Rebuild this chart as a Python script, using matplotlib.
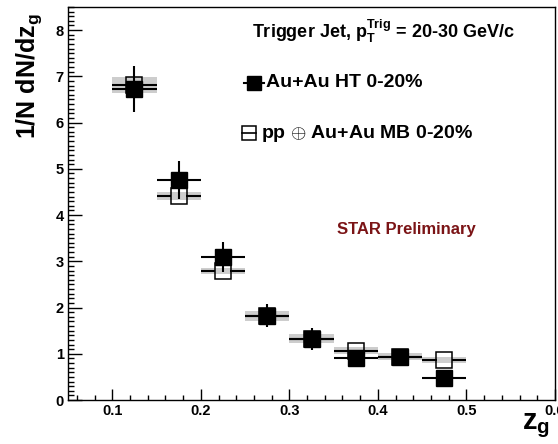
import numpy as np
import matplotlib
matplotlib.use('Agg')
import matplotlib.pyplot as plt
from matplotlib.ticker import MultipleLocator

plt.rcParams['font.family'] = ['Liberation Sans', 'DejaVu Sans']
plt.rcParams['font.weight'] = 'bold'
plt.rcParams['mathtext.fontset'] = 'custom'
plt.rcParams['mathtext.rm'] = 'Liberation Sans:bold'
plt.rcParams['mathtext.bf'] = 'Liberation Sans:bold'
plt.rcParams['mathtext.it'] = 'Liberation Sans:bold:italic'

# --- data ---
zg = np.array([0.125, 0.175, 0.225, 0.275, 0.325, 0.375, 0.425, 0.475])
bin_half = 0.025

auau_ht = np.array([6.72, 4.75, 3.09, 1.82, 1.32, 0.91, 0.94, 0.47])
auau_ht_err = np.array([0.50, 0.41, 0.32, 0.25, 0.23, 0.15, 0.15, 0.15])

pp_mb = np.array([6.82, 4.41, 2.79, 1.82, 1.33, 1.07, 0.94, 0.86])
pp_mb_sys = np.array([0.17, 0.08, 0.07, 0.11, 0.10, 0.07, 0.08, 0.07])

xticks = [0.1, 0.2, 0.3, 0.4, 0.5, 0.6]
yticks = [0, 1, 2, 3, 4, 5, 6, 7, 8]

# --- figure ---
fig = plt.figure(figsize=(5.58, 4.44), dpi=100)
ax = fig.add_axes([68 / 558, 44 / 444, 487 / 558, 393 / 444])

# grey systematic boxes (pp + Au+Au MB)
ax.bar(zg, 2 * pp_mb_sys, bottom=pp_mb - pp_mb_sys, width=2 * bin_half,
       color='#cdcdcd', linewidth=0, zorder=1)

# pp bin-width lines, stopping at the open marker
gap = 0.0085
ax.hlines(pp_mb, zg - bin_half, zg - gap, color='black', lw=1.5, zorder=2)
ax.hlines(pp_mb, zg + gap, zg + bin_half, color='black', lw=1.5, zorder=2)
ax.plot(zg, pp_mb, 's', ms=11, mfc='none', mec='black', mew=1.1, zorder=3)

# Au+Au HT
ax.errorbar(zg, auau_ht, yerr=auau_ht_err, xerr=bin_half, fmt='s', ms=11,
            mfc='black', mec='black', ecolor='black', elinewidth=1.5,
            capsize=0, zorder=4)

ax.set_xlim(0.05, 0.6)
ax.set_ylim(0, 8.5)
ax.set_xticks(xticks)
ax.set_yticks(yticks)
ax.set_xticklabels(['%.1f' % t for t in xticks])
ax.xaxis.set_minor_locator(MultipleLocator(0.02))
ax.yaxis.set_minor_locator(MultipleLocator(0.1))
ax.tick_params(axis='both', which='both', direction='in', top=False, right=False,
               labelsize=10.5, pad=3)
ax.tick_params(axis='x', which='major', length=8, width=1)
ax.tick_params(axis='x', which='minor', length=3.5, width=1)
ax.tick_params(axis='y', which='major', length=10, width=1)
ax.tick_params(axis='y', which='minor', length=4.3, width=1)
for s in ax.spines.values():
    s.set_linewidth(1.0)

ax.set_ylabel(r'1/N dN/dz$_{\mathrm{g}}$', fontsize=18, fontweight='bold', loc='top')
ax.yaxis.set_label_coords(-0.05, 0.985)
ax.set_xlabel(r'z$_{\mathrm{g}}$', fontsize=21, fontweight='bold', ha='right')
ax.xaxis.set_label_coords(0.99, -0.03)

# legend drawn ROOT-style
ax.text(0.378, 0.938, r'Trigger Jet, $\mathrm{p}_{\mathrm{T}}^{\mathrm{Trig}}$ = 20-30 GeV/c',
        transform=ax.transAxes, fontsize=13, ha='left', va='center')
ax.plot([0.362, 0.403], [0.807, 0.807], color='black', lw=1.5,
        transform=ax.transAxes, clip_on=False)
ax.plot([0.381], [0.807], 's', ms=10.5, mfc='black', mec='black',
        transform=ax.transAxes, clip_on=False)
ax.text(0.407, 0.807, 'Au+Au HT 0-20%', transform=ax.transAxes, fontsize=14,
        ha='left', va='center')
ax.plot([0.358, 0.387], [0.679, 0.679], color='black', lw=1.2,
        transform=ax.transAxes, clip_on=False)
ax.plot([0.372], [0.679], 's', ms=10.5, mfc='none', mec='black', mew=1.1,
        transform=ax.transAxes, clip_on=False)
ax.text(0.396, 0.679, r'pp $\oplus$ Au+Au MB 0-20%', transform=ax.transAxes,
        fontsize=14, ha='left', va='center')

ax.text(0.694, 0.433, 'STAR Preliminary', transform=ax.transAxes, fontsize=12,
        color='#7b1416', ha='center', va='center')

fig.savefig('out.png', dpi=100)
